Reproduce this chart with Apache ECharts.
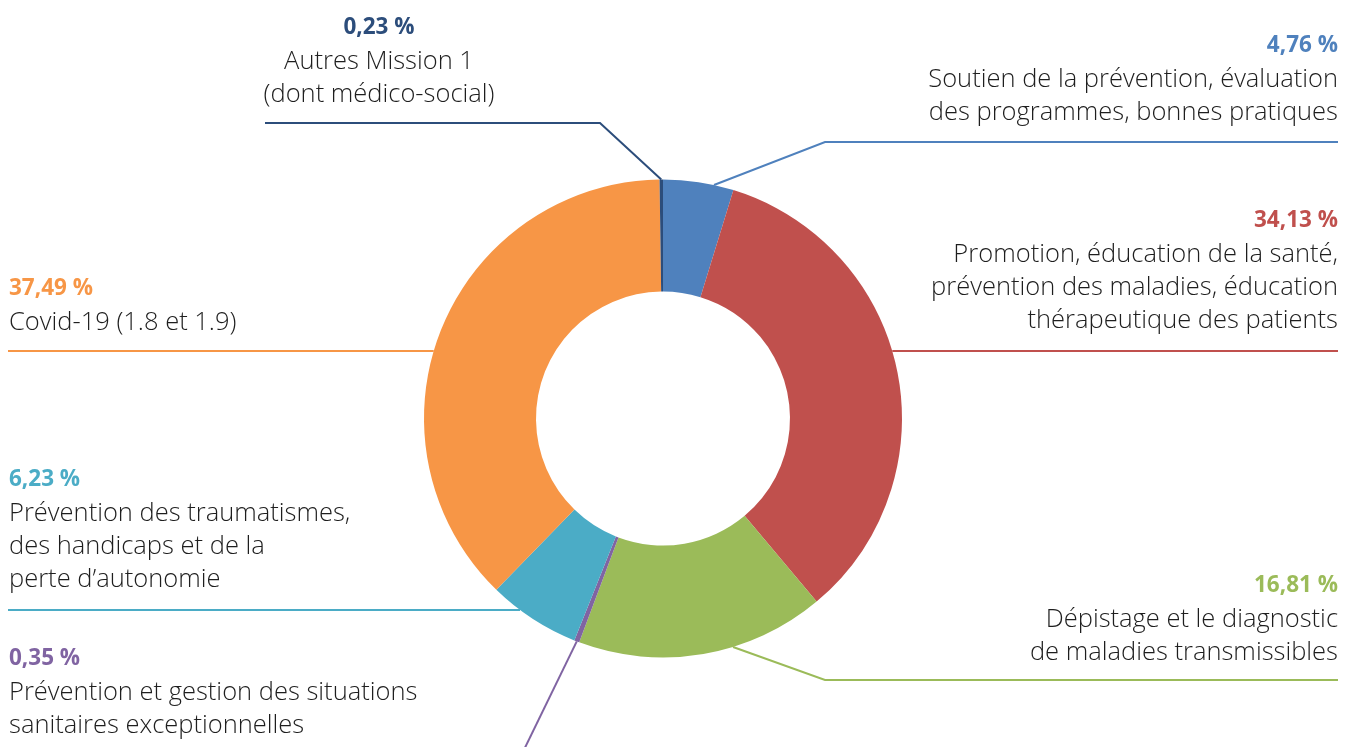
<!DOCTYPE html>
<html>
<head>
<meta charset="utf-8">
<script src="https://cdn.jsdelivr.net/npm/echarts@6/dist/echarts.min.js"></script>
<style>
  html, body { margin: 0; padding: 0; background: #ffffff; }
  #chart { width: 1346px; height: 747px; }
</style>
</head>
<body>
<div id="chart"></div>
<script>
// ---- Data ----
const categories = [
  'Soutien de la prévention, évaluation\ndes programmes, bonnes pratiques',
  'Promotion, éducation de la santé,\nprévention des maladies, éducation\nthérapeutique des patients',
  'Dépistage et le diagnostic\nde maladies transmissibles',
  'Prévention et gestion des situations\nsanitaires exceptionnelles',
  'Prévention des traumatismes,\ndes handicaps et de la\nperte d’autonomie',
  'Covid-19 (1.8 et 1.9)',
  'Autres Mission 1\n(dont médico-social)'
];
const values = [4.76, 34.13, 16.81, 0.35, 6.23, 37.49, 0.23];
const colors = ['#4F81BD', '#C0504D', '#9BBB59', '#8064A2', '#4BACC6', '#F79646', '#2C4D7B'];

// ---- Layout (positions of labels and leader lines) ----
const CX = 663, CY = 418.5, R_IN = 127, R_OUT = 239;
const labelLayouts = [
  { align: 'right',  textX: 1338, firstY: 44,  lineY: 142, lineEnd: 1338, elbowX: 825, startY: 185 },
  { align: 'right',  textX: 1338, firstY: 219, lineY: 351, lineEnd: 1338, elbowX: null, startY: 351 },
  { align: 'right',  textX: 1338, firstY: 584, lineY: 680, lineEnd: 1338, elbowX: 825, startY: 647 },
  { align: 'left',   textX: 9,    firstY: 657, lineY: null, tail: [519, 760], startY: null },
  { align: 'left',   textX: 9,    firstY: 478, lineY: 610, lineEnd: 8, elbowX: null, startY: 610 },
  { align: 'left',   textX: 9,    firstY: 287, lineY: 351, lineEnd: 8, elbowX: null, startY: 351 },
  { align: 'center', textX: 379,  firstY: 26,  lineY: 123, lineEnd: 265, elbowX: 600, startY: null }
];

const FONT = '"Open Sans", "Noto Sans", sans-serif';

const data = values.map(function (v, i) {
  const lay = labelLayouts[i];
  return {
    value: v,
    name: categories[i],
    itemStyle: { color: colors[i] },
    label: {
      align: lay.align,
      rich: {
        p: { fontFamily: FONT, fontSize: 22.5, fontWeight: 'bold', lineHeight: 34, color: colors[i], align: lay.align },
        n: { fontFamily: FONT, fontSize: 25.5, fontWeight: 300, lineHeight: 33, color: '#1e1e1e', align: lay.align }
      }
    },
    labelLine: { lineStyle: { color: colors[i], width: 2 } }
  };
});

const chart = echarts.init(document.getElementById('chart'), null, { renderer: 'canvas' });

chart.setOption({
  backgroundColor: '#ffffff',
  animation: false,
  series: [{
    type: 'pie',
    center: [CX, CY],
    radius: [R_IN, R_OUT],
    startAngle: 90,
    clockwise: true,
    avoidLabelOverlap: false,
    silent: true,
    data: data,
    label: {
      show: true,
      position: 'outer',
      fontFamily: FONT,
      formatter: function (p) {
        const pct = p.value.toFixed(2).replace('.', ',') + ' %';
        const lines = p.name.split('\n').map(function (s) { return '{n|' + s + '}'; });
        return '{p|' + pct + '}\n' + lines.join('\n');
      }
    },
    labelLine: { show: true, smooth: false, length: 10, length2: 10 },
    labelLayout: function (params) {
      const i = params.dataIndex;
      const lay = labelLayouts[i];
      let start;
      if (lay.startY != null) {
        const dy = lay.startY - CY;
        const dx = Math.sqrt(Math.max(0, R_OUT * R_OUT - dy * dy));
        start = [lay.align === 'left' ? CX - dx : CX + dx, lay.startY];
      } else if (params.labelLinePoints && params.labelLinePoints.length) {
        start = params.labelLinePoints[0];
      } else {
        start = [CX, CY - R_OUT];
      }
      let pts;
      if (lay.lineY == null) {
        pts = [start, lay.tail];
      } else if (lay.elbowX != null) {
        pts = [start, [lay.elbowX, lay.lineY], [lay.lineEnd, lay.lineY]];
      } else {
        pts = [start, [lay.lineEnd, lay.lineY]];
      }
      return {
        x: lay.textX,
        y: lay.firstY - 15,
        align: lay.align,
        verticalAlign: 'top',
        labelLinePoints: pts
      };
    }
  }]
});
</script>
</body>
</html>
